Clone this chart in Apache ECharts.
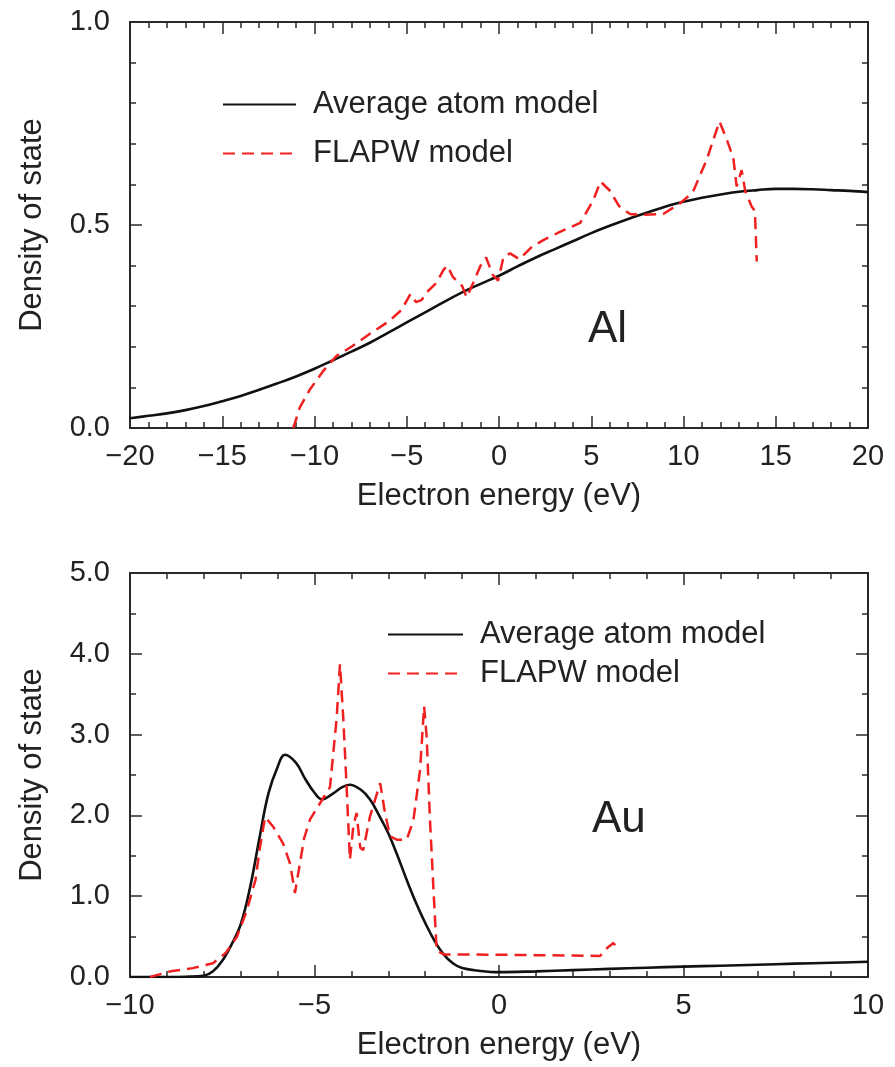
<!DOCTYPE html>
<html>
<head>
<meta charset="utf-8">
<script src="https://cdn.jsdelivr.net/npm/echarts@6/dist/echarts.min.js"></script>
<style>
html,body{margin:0;padding:0;background:#fff;}
#chart{width:895px;height:1067px;}
</style>
</head>
<body>
<div id="chart"></div>
<script>
// ---------- text ----------
const seriesNames = ['Average atom model', 'FLAPW model'];
const panelLabels = ['Al', 'Au'];
const xAxisTitle = 'Electron energy (eV)';
const yAxisTitle = 'Density of state';

// ---------- axis ranges / ticks ----------
const alXRange = [-20, 20, 5];
const alYRange = [0, 1, 0.5];
const auXRange = [-10, 10, 5];
const auYRange = [0, 5, 1];

// ---------- Al panel ----------
const alAvgEnergy = [-20,-19,-18,-17,-16,-15,-14,-13,-12,-11,-10,-9,-8,-7,-6,-5,-4,-3,-2,-1,0,1,2,3,4,5,6,7,8,9,10,11,12,13,14,15,16,17,18,19,20];
const alAvgDos = [0.024,0.030,0.036,0.044,0.054,0.066,0.079,0.094,0.110,0.127,0.146,0.167,0.188,0.210,0.235,0.260,0.285,0.310,0.334,0.355,0.375,0.398,0.420,0.440,0.460,0.480,0.498,0.515,0.530,0.545,0.557,0.567,0.575,0.582,0.586,0.589,0.589,0.588,0.586,0.584,0.581];

const alFlapwEnergy = [-11.15,-10.8,-10.25,-9.5,-8.8,-8,-7,-6,-5.3,-4.8,-4.5,-4.2,-3.9,-3.4,-3.0,-2.8,-2.5,-2.0,-1.75,-1.4,-1.0,-0.7,-0.35,-0.05,0.25,0.6,1.1,1.8,2.5,3.3,4.4,5.1,5.5,6.0,6.5,7.1,7.8,8.9,9.8,10.5,11.25,11.95,12.35,12.7,12.88,13.15,13.35,13.7,13.87,13.97];
const alFlapwDos = [0.0,0.05,0.095,0.142,0.178,0.2,0.232,0.262,0.29,0.33,0.31,0.315,0.335,0.357,0.39,0.4,0.372,0.35,0.322,0.357,0.4,0.42,0.378,0.363,0.422,0.43,0.416,0.447,0.465,0.483,0.505,0.56,0.607,0.585,0.547,0.527,0.525,0.527,0.553,0.58,0.66,0.755,0.71,0.665,0.595,0.635,0.583,0.545,0.535,0.41];

// ---------- Au panel ----------
const auAvgEnergy = [-10,-9,-8.5,-8,-7.75,-7.5,-7.25,-7,-6.75,-6.5,-6.25,-6,-5.8,-5.5,-5.25,-5,-4.8,-4.5,-4.25,-4.05,-3.75,-3.5,-3.25,-3,-2.75,-2.5,-2.25,-2,-1.75,-1.5,-1.25,-1,-0.5,0,1,2,3,4,5,6,7,8,9,10];
const auAvgDos = [0,0,0.003,0.015,0.07,0.2,0.4,0.65,1.1,1.7,2.27,2.6,2.75,2.65,2.45,2.28,2.2,2.27,2.35,2.38,2.32,2.2,2.0,1.78,1.5,1.2,0.92,0.67,0.45,0.28,0.17,0.11,0.075,0.06,0.07,0.085,0.1,0.115,0.128,0.14,0.152,0.165,0.176,0.188];

const auFlapwEnergy = [-9.46,-8.9,-8.3,-7.75,-7.4,-7.1,-6.85,-6.6,-6.48,-6.34,-6.12,-5.85,-5.66,-5.53,-5.39,-5.28,-5.12,-4.85,-4.58,-4.4,-4.31,-4.22,-4.13,-4.04,-3.95,-3.86,-3.76,-3.68,-3.5,-3.22,-3.09,-2.95,-2.77,-2.5,-2.32,-2.14,-2.03,-1.96,-1.87,-1.78,-1.69,-1.5,0,1,2,2.74,2.92,3.1,3.15];
const auFlapwDos = [0,0.07,0.11,0.17,0.3,0.5,0.8,1.2,1.6,1.98,1.86,1.65,1.4,1.04,1.42,1.72,1.95,2.15,2.35,3.2,3.87,3.2,2.36,1.45,1.86,2.03,1.6,1.57,1.98,2.4,2.03,1.74,1.7,1.7,1.94,2.56,3.35,2.97,1.94,1.12,0.33,0.28,0.275,0.27,0.265,0.26,0.355,0.42,0.39];

// ---------- styling ----------
const FONT = '"Liberation Sans", Arial, Helvetica, sans-serif';
const AXIS_COLOR = '#2a2a2a';
const TEXT_COLOR = '#222';
const BLACK = '#111';
const RED = '#f02020';

const zip = (xs, ys) => xs.map((x, i) => [x, ys[i]]);
const fmtX = v => (v < 0 ? '\u2212' + Math.abs(v) : String(v));
const fmtY = v => v.toFixed(1);

function xAxes(gridIndex, range) {
  const base = {
    type: 'value', gridIndex, min: range[0], max: range[1], interval: range[2],
    axisLine: { show: true, onZero: false, lineStyle: { color: AXIS_COLOR, width: 2 } },
    axisTick: { show: true, inside: true, length: 12, lineStyle: { color: AXIS_COLOR, width: 1.5 } },
    minorTick: { show: true, splitNumber: 5, length: 6, lineStyle: { color: AXIS_COLOR, width: 1.5 } },
    splitLine: { show: false }, minorSplitLine: { show: false }
  };
  return [
    Object.assign({}, base, {
      position: 'bottom',
      axisLabel: { show: true, margin: 14, fontSize: 29, color: TEXT_COLOR, fontFamily: FONT, formatter: fmtX },
      name: xAxisTitle, nameLocation: 'middle', nameGap: 53,
      nameTextStyle: { fontSize: 31, color: TEXT_COLOR, fontFamily: FONT }
    }),
    Object.assign({}, base, { position: 'top', axisLabel: { show: false } })
  ];
}

function yAxes(gridIndex, range, minorSplit) {
  const base = {
    type: 'value', gridIndex, min: range[0], max: range[1], interval: range[2],
    axisLine: { show: true, onZero: false, lineStyle: { color: AXIS_COLOR, width: 2 } },
    axisTick: { show: true, inside: true, length: 12, lineStyle: { color: AXIS_COLOR, width: 1.5 } },
    minorTick: { show: true, splitNumber: minorSplit, length: 6, lineStyle: { color: AXIS_COLOR, width: 1.5 } },
    splitLine: { show: false }, minorSplitLine: { show: false }
  };
  return [
    Object.assign({}, base, {
      position: 'left',
      axisLabel: { show: true, margin: 20, fontSize: 29, color: TEXT_COLOR, fontFamily: FONT, formatter: fmtY },
      name: yAxisTitle, nameLocation: 'middle', nameGap: 82, nameRotate: 90,
      nameTextStyle: { fontSize: 31, color: TEXT_COLOR, fontFamily: FONT }
    }),
    Object.assign({}, base, { position: 'right', axisLabel: { show: false } })
  ];
}

function avgSeries(xi, yi, data) {
  return {
    name: seriesNames[0], type: 'line', xAxisIndex: xi, yAxisIndex: yi,
    data, smooth: 0.4, symbol: 'none', showSymbol: false, z: 3,
    lineStyle: { color: BLACK, width: 2.6, type: 'solid' }, itemStyle: { color: BLACK }
  };
}
function flapwSeries(xi, yi, data) {
  return {
    name: seriesNames[1], type: 'line', xAxisIndex: xi, yAxisIndex: yi,
    data, smooth: false, symbol: 'none', showSymbol: false, z: 4,
    lineStyle: { color: RED, width: 2.5, type: [12, 7] }, itemStyle: { color: RED }
  };
}

const legendText = { fontSize: 31, lineHeight: 30, color: TEXT_COLOR, fontFamily: FONT, padding: [0, 0, 0, 12] };
const legendItemStyle = { color: 'rgba(0,0,0,0)', borderWidth: 0, opacity: 0 };

const option = {
  animation: false,
  backgroundColor: '#ffffff',
  grid: [
    { left: 130, top: 22, width: 738, height: 406 },
    { left: 130, top: 573, width: 738, height: 404 }
  ],
  xAxis: [...xAxes(0, alXRange), ...xAxes(1, auXRange)],
  yAxis: [...yAxes(0, alYRange, 5), ...yAxes(1, auYRange, 2)],
  legend: [
    { orient: 'vertical', left: 222, top: 89, padding: 0, itemWidth: 73, itemHeight: 14, itemGap: 18,
      selectedMode: false, data: seriesNames, textStyle: legendText, itemStyle: legendItemStyle },
    { orient: 'vertical', left: 387, top: 619, padding: 0, itemWidth: 75, itemHeight: 14, itemGap: 8,
      selectedMode: false, data: seriesNames, textStyle: legendText, itemStyle: legendItemStyle }
  ],
  graphic: [
    { type: 'text', left: 588, top: 308, style: { text: panelLabels[0], fontSize: 44, fill: TEXT_COLOR, fontFamily: FONT } },
    { type: 'text', left: 592, top: 798, style: { text: panelLabels[1], fontSize: 44, fill: TEXT_COLOR, fontFamily: FONT } }
  ],
  series: [
    avgSeries(0, 0, zip(alAvgEnergy, alAvgDos)),
    flapwSeries(0, 0, zip(alFlapwEnergy, alFlapwDos)),
    avgSeries(2, 2, zip(auAvgEnergy, auAvgDos)),
    flapwSeries(2, 2, zip(auFlapwEnergy, auFlapwDos))
  ]
};

const chart = echarts.init(document.getElementById('chart'), null, { renderer: 'canvas' });
chart.setOption(option);
</script>
</body>
</html>
